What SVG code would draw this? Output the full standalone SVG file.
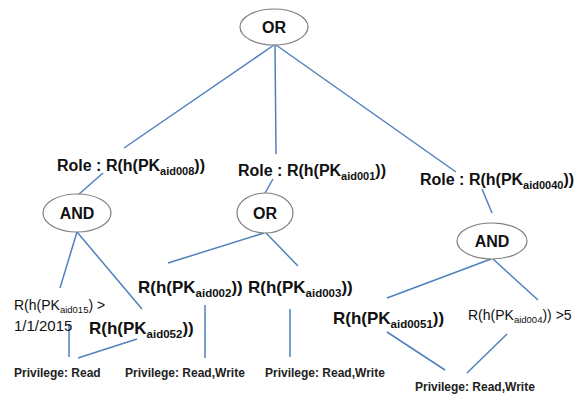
<svg xmlns="http://www.w3.org/2000/svg" width="581" height="396" viewBox="0 0 581 396">
<style>
.bg{fill:#ffffff}
.edge{stroke:#4f81bd;stroke-width:1.5;fill:none}
.node{fill:#ffffff;stroke:#7f7f7f;stroke-width:1.2}
.op{font-family:"Liberation Sans",Arial,sans-serif;font-weight:bold;font-size:16px;fill:#111111;text-anchor:middle}
.lbl{font-family:"Liberation Sans",Arial,sans-serif;font-weight:bold;font-size:16px;fill:#111111}
.big{font-family:"Liberation Sans",Arial,sans-serif;font-weight:bold;font-size:17px;fill:#111111}
.reg{font-family:"Liberation Sans",Arial,sans-serif;font-size:14px;fill:#111111}
.priv{font-family:"Liberation Sans",Arial,sans-serif;font-weight:bold;font-size:12px;fill:#222222}
.s11{font-size:11px}
.s115{font-size:11.5px}
.s95{font-size:9.5px}
</style>
<rect class="bg" x="0" y="0" width="581" height="396"/>
<g id="connectors">
<line class="edge" x1="274" y1="45" x2="124" y2="148"/>
<line class="edge" x1="275" y1="45" x2="276" y2="154"/>
<line class="edge" x1="276" y1="45" x2="456" y2="172"/>
<line class="edge" x1="103" y1="173" x2="78" y2="195"/>
<line class="edge" x1="273" y1="179" x2="265" y2="193"/>
<line class="edge" x1="482" y1="189" x2="492" y2="213"/>
<line class="edge" x1="77" y1="232" x2="60" y2="288"/>
<line class="edge" x1="77" y1="232" x2="142" y2="309"/>
<line class="edge" x1="69" y1="325" x2="69" y2="357"/>
<line class="edge" x1="78" y1="358" x2="137" y2="339"/>
<line class="edge" x1="264" y1="233" x2="168" y2="263"/>
<line class="edge" x1="266" y1="233" x2="298" y2="266"/>
<line class="edge" x1="205" y1="305" x2="205" y2="358"/>
<line class="edge" x1="290" y1="309" x2="290" y2="357"/>
<line class="edge" x1="491" y1="259" x2="387" y2="298"/>
<line class="edge" x1="493" y1="259" x2="538" y2="300"/>
<line class="edge" x1="387" y1="332" x2="445" y2="370"/>
<line class="edge" x1="507" y1="334" x2="467" y2="373"/>
</g>
<g id="or_top">
<ellipse class="node" cx="274" cy="27" rx="34" ry="18"/>
<text class="op" x="274" y="33">OR</text>
</g>
<g id="role_aid008">
<text class="lbl" x="57" y="171">Role : R(h(PK<tspan class="s11" dy="4">aid008</tspan><tspan dy="-4">))</tspan></text>
</g>
<g id="role_aid001">
<text class="lbl" x="238" y="176">Role : R(h(PK<tspan class="s11" dy="4">aid001</tspan><tspan dy="-4">))</tspan></text>
</g>
<g id="role_aid0040">
<text class="lbl" x="420" y="185">Role : R(h(PK<tspan class="s11" dy="4">aid0040</tspan><tspan dy="-4">))</tspan></text>
</g>
<g id="and_left">
<ellipse class="node" cx="77" cy="213" rx="34" ry="19"/>
<text class="op" x="77" y="219">AND</text>
</g>
<g id="or_mid">
<ellipse class="node" cx="265" cy="213" rx="28" ry="20"/>
<text class="op" x="265" y="219">OR</text>
</g>
<g id="and_right">
<ellipse class="node" cx="492" cy="241" rx="35" ry="18"/>
<text class="op" x="492" y="247">AND</text>
</g>
<g id="cond_aid015">
<text class="reg" x="14" y="310">R(h(PK<tspan class="s95" dy="3">aid015</tspan><tspan dy="-3">) &gt;</tspan></text>
<text class="reg" x="14" y="331" style="font-size:15px">1/1/2015</text>
</g>
<g id="r_aid052">
<text class="big" x="89" y="334">R(h(PK<tspan class="s115" dy="4">aid052</tspan><tspan dy="-4">))</tspan></text>
</g>
<g id="r_aid002">
<text class="big" x="138" y="293">R(h(PK<tspan class="s115" dy="4">aid002</tspan><tspan dy="-4">))</tspan></text>
</g>
<g id="r_aid003">
<text class="big" x="248" y="293">R(h(PK<tspan class="s115" dy="4">aid003</tspan><tspan dy="-4">))</tspan></text>
</g>
<g id="r_aid0051">
<text class="big" x="333" y="324">R(h(PK<tspan class="s115" dy="4">aid0051</tspan><tspan dy="-4">))</tspan></text>
</g>
<g id="cond_aid004">
<text class="reg" x="468" y="320">R(h(PK<tspan class="s95" dy="3">aid004</tspan><tspan dy="-3">)) &gt;5</tspan></text>
</g>
<g id="priv_read">
<text class="priv" x="14" y="377">Privilege: Read</text>
</g>
<g id="priv_rw1">
<text class="priv" x="125" y="377">Privilege: Read,Write</text>
</g>
<g id="priv_rw2">
<text class="priv" x="265" y="377">Privilege: Read,Write</text>
</g>
<g id="priv_rw3">
<text class="priv" x="415" y="391">Privilege: Read,Write</text>
</g>
</svg>
